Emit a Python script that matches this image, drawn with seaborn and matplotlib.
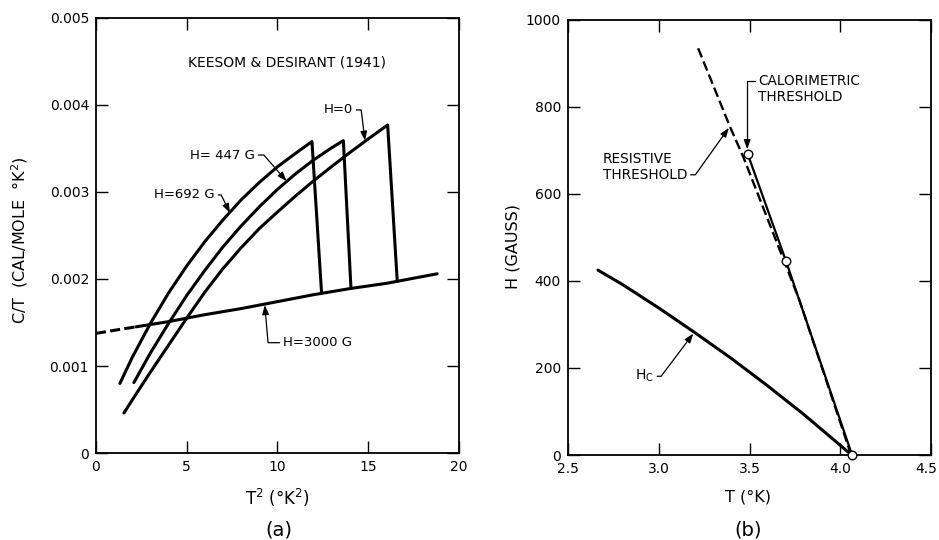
import matplotlib
matplotlib.use("Agg")
import matplotlib.pyplot as plt
import matplotlib.transforms as mtransforms
import seaborn as sns

# (a) C/T vs T^2, Keesom & Desirant (1941)
t2_h692 = [1.32, 2, 3, 4, 5, 6, 7, 8, 9, 10, 11, 11.9, 12.43]
ct_h692 = [0.00080, 0.00110, 0.00149, 0.00184, 0.00215, 0.00243, 0.00268,
           0.00291, 0.00311, 0.00329, 0.003445, 0.00358, 0.001836]

t2_h447 = [2.09, 3, 4, 5, 6, 7, 8, 9, 10, 11, 12, 13, 13.63, 14.05]
ct_h447 = [0.00081, 0.00115, 0.00149, 0.00181, 0.00210, 0.00237, 0.00261,
           0.00283, 0.00303, 0.00321, 0.00337, 0.00351, 0.00359, 0.00189]

t2_h0 = [1.54, 2, 3, 4, 5, 6, 7, 8, 9, 10, 11, 12, 13, 14, 15, 16.07, 16.6]
ct_h0 = [0.00046, 0.00061, 0.00093, 0.00124, 0.00155, 0.00185, 0.00212,
         0.00236, 0.00258, 0.00277, 0.002955, 0.00313, 0.003295, 0.003455,
         0.00361, 0.00377, 0.00197]

t2_h3000 = [0, 1, 2.2, 4, 6, 8, 10, 12, 14, 16, 18.8]
ct_h3000 = [0.001375, 0.00141, 0.00145, 0.00151, 0.00159, 0.00166, 0.00174,
            0.00182, 0.00189, 0.00195, 0.00206]
dash_end = 2.2  # extrapolated part of the H=3000 G line

# (b) H vs T
t_hc = [2.665, 2.8, 3.0, 3.2, 3.4, 3.6, 3.8, 4.063]
h_hc = [425, 392, 338, 281, 222, 159, 93, 0]

t_calor = [3.49, 3.70, 4.065]
h_calor = [692, 447, 0]

t_resist = [3.217, 3.392, 3.465, 3.774, 4.06]
h_resist = [935, 755, 686, 357, 0]

sns.set_theme(style="ticks")
plt.rcParams["font.family"] = ["DejaVu Sans"]
plt.rcParams["axes.linewidth"] = 1.3
plt.rcParams["axes.edgecolor"] = "black"
plt.rcParams["text.color"] = "black"
plt.rcParams["axes.labelcolor"] = "black"

fig = plt.figure(figsize=(9.39, 5.4), dpi=100)
ax1 = fig.add_axes([0.1022, 0.1611, 0.3866, 0.8056])
ax2 = fig.add_axes([0.6049, 0.1574, 0.3866, 0.8056])

lw_main = 2.2
for xs, ys in [(t2_h692, ct_h692), (t2_h447, ct_h447), (t2_h0, ct_h0)]:
    sns.lineplot(x=xs, y=ys, ax=ax1, color="black", linewidth=lw_main,
                 sort=False, estimator=None)

x_dash = [x for x in t2_h3000 if x <= dash_end]
y_dash = ct_h3000[:len(x_dash)]
x_sol = [x for x in t2_h3000 if x >= dash_end]
y_sol = ct_h3000[len(t2_h3000) - len(x_sol):]
sns.lineplot(x=x_dash, y=y_dash, ax=ax1, color="black", linewidth=lw_main,
             linestyle=(0, (3.3, 1.4)), sort=False, estimator=None)
sns.lineplot(x=x_sol, y=y_sol, ax=ax1, color="black", linewidth=lw_main,
             sort=False, estimator=None)

ax1.set_xlim(0, 20)
ax1.set_ylim(0, 0.005)
ax1.set_xticks([0, 5, 10, 15, 20])
ax1.set_xticklabels(["0", "5", "10", "15", "20"])
ax1.set_yticks([0, 0.001, 0.002, 0.003, 0.004, 0.005])
ax1.set_yticklabels(["0", "0.001", "0.002", "0.003", "0.004", "0.005"])
ax1.set_xlabel("T$^2$ (°K$^2$)", fontsize=12)
ax1.set_ylabel("C/T  (CAL/MOLE  °K$^2$)", fontsize=11.5)
ax1.xaxis.set_label_coords(0.5, -0.078)
ax1.yaxis.set_label_coords(-0.182, 0.49)

ax1.text(10.52, 0.004494, "KEESOM & DESIRANT (1941)", ha="center",
         va="center", fontsize=10)

arrow_kw = dict(arrowstyle="-|>,head_length=0.55,head_width=0.2",
                color="black", lw=0.9, mutation_scale=10,
                shrinkA=0, shrinkB=0)


def leader(ax, label, xy, xytext, ha, relpos, angle_b, fs=9.5):
    ax.annotate(label, xy=xy, xytext=xytext, textcoords="data", ha=ha,
                va="center", fontsize=fs,
                arrowprops=dict(arrow_kw, relpos=relpos,
                                connectionstyle=f"angle,angleA=0,angleB={angle_b},rad=0"))


leader(ax1, "H=0", (14.82, 0.00359), (14.16, 0.003943), "right", (1, 0.5), -83)
leader(ax1, "H= 447 G", (10.5, 0.003125), (8.76, 0.003425), "right", (1, 0.5), -49)
leader(ax1, "H=692 G", (7.38, 0.00276), (6.56, 0.002966), "right", (1, 0.5), -64)
leader(ax1, "H=3000 G", (9.3, 0.00170), (10.3, 0.001268), "left", (0, 0.5), 95)

# right panel
sns.lineplot(x=t_hc, y=h_hc, ax=ax2, color="black", linewidth=lw_main,
             sort=False, estimator=None)
sns.lineplot(x=t_resist, y=h_resist, ax=ax2, color="black", linewidth=1.7,
             linestyle=(0, (4.2, 1.8)), sort=False, estimator=None)
sns.lineplot(x=t_calor, y=h_calor, ax=ax2, color="black", linewidth=1.6,
             sort=False, estimator=None)
sns.scatterplot(x=t_calor, y=h_calor, ax=ax2, s=38, facecolor="white",
                edgecolor="black", linewidth=1.0, zorder=5, clip_on=False)

ax2.set_xlim(2.5, 4.5)
ax2.set_ylim(0, 1000)
ax2.set_xticks([2.5, 3.0, 3.5, 4.0, 4.5])
ax2.set_xticklabels(["2.5", "3.0", "3.5", "4.0", "4.5"])
ax2.set_yticks([0, 200, 400, 600, 800, 1000])
ax2.set_yticklabels(["0", "200", "400", "600", "800", "1000"])
ax2.set_xlabel("T (°K)", fontsize=11.5)
ax2.set_ylabel("H (GAUSS)", fontsize=11.5)
ax2.xaxis.set_label_coords(0.495, -0.079)
ax2.yaxis.set_label_coords(-0.13, 0.48)

leader(ax2, "CALORIMETRIC\nTHRESHOLD", (3.487, 703), (3.548, 841.6), "left",
       (0, 0.75), 90, fs=9.8)
leader(ax2, "RESISTIVE\nTHRESHOLD", (3.386, 752), (2.693, 661.5), "left",
       (1, 0.25), 54.5, fs=9.8)
leader(ax2, "H$_{\\mathrm{C}}$", (3.19, 279), (2.973, 181), "right",
       (1, 0.5), 53, fs=10)

for ax in (ax1, ax2):
    ax.tick_params(direction="in", top=True, right=True, length=8.5,
                   width=1.0, labelsize=10, pad=5, colors="black")
    for sp in ax.spines.values():
        sp.set_visible(True)
        sp.set_color("black")

# keep the last tick label of (b) inside the figure
shift = mtransforms.ScaledTranslation(-5 / 100, 0, fig.dpi_scale_trans)
last = ax2.get_xticklabels()[-1]
last.set_transform(last.get_transform() + shift)

fig.text(279 / 939, 1 - 530 / 540, "(a)", ha="center", va="center", fontsize=14)
fig.text(748 / 939, 1 - 530 / 540, "(b)", ha="center", va="center", fontsize=14)

fig.savefig("out.png", dpi=100, facecolor="white")
